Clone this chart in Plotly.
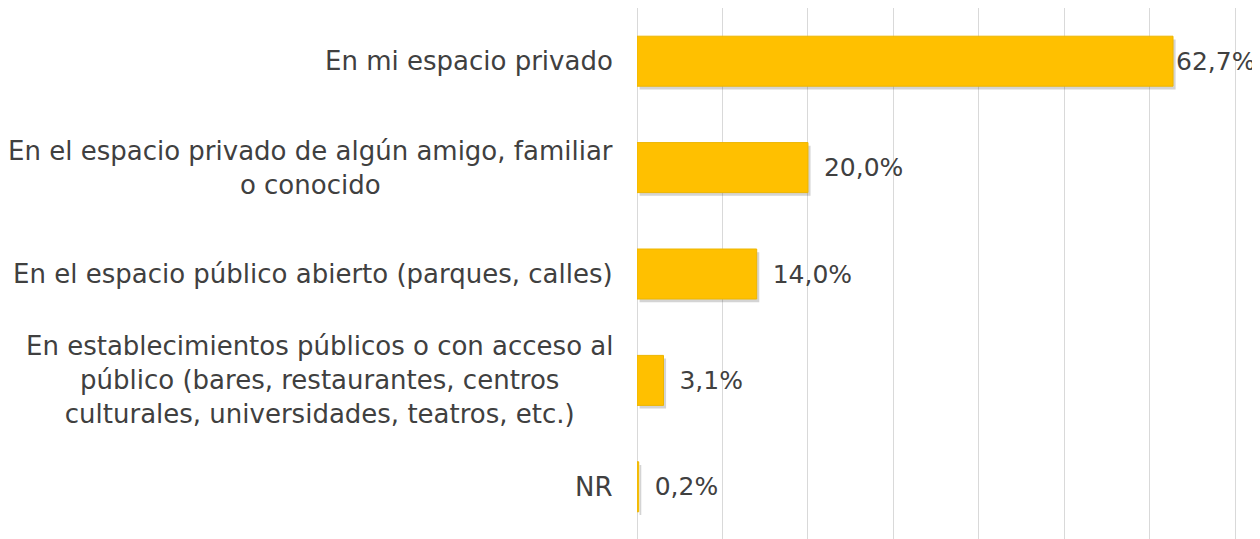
import plotly.graph_objects as go

categories = [
    "En mi espacio privado",
    "En el espacio privado de algún amigo, familiar<br>o conocido",
    "En el espacio público abierto (parques, calles)",
    "En establecimientos públicos o con acceso al<br>público (bares, restaurantes, centros<br>culturales, universidades, teatros, etc.)",
    "NR",
]
values = [0.627, 0.200, 0.140, 0.031, 0.002]
value_labels = ["62,7%", "20,0%", "14,0%", "3,1%", "0,2%"]

FONT = "DejaVu Sans, Arial, sans-serif"
TEXT_COLOR = "#404040"
FONT_SIZE = 26
BAR_W = 0.47

# a little gap before the label, except the long bar where the label sits flush
pad = "\u00a0\u2009"
bar_text = [value_labels[0]] + [pad + t for t in value_labels[1:]]

fig = go.Figure()

# soft drop shadow under each bar
fig.add_trace(
    go.Bar(
        x=values,
        y=categories,
        orientation="h",
        base=0.003,
        width=BAR_W,
        offset=-BAR_W / 2 + 0.03,
        marker=dict(color="rgba(60,60,60,0.22)", line=dict(width=0)),
        hoverinfo="skip",
    )
)

fig.add_trace(
    go.Bar(
        x=values,
        y=categories,
        orientation="h",
        width=BAR_W,
        text=bar_text,
        textposition="outside",
        cliponaxis=False,
        constraintext="none",
        textfont=dict(family=FONT, size=25, color=TEXT_COLOR),
        marker=dict(color="#FFC000", line=dict(color="#EDB600", width=1)),
        hoverinfo="skip",
    )
)

# category labels as annotations so multi-line text is centred
for cat in categories:
    fig.add_annotation(
        x=0, xref="paper", y=cat, yref="y",
        text=cat, showarrow=False,
        xanchor="right", align="center", xshift=-22,
        font=dict(family=FONT, size=FONT_SIZE, color=TEXT_COLOR),
    )

# the page body adds an 8px offset, margins are set with that in mind
fig.update_layout(
    width=1260,
    height=539,
    margin=dict(l=629, r=30, t=0, b=7),
    plot_bgcolor="white",
    paper_bgcolor="white",
    barmode="overlay",
    showlegend=False,
    font=dict(family=FONT, size=FONT_SIZE, color=TEXT_COLOR),
)
fig.update_xaxes(
    range=[0, 0.703],
    dtick=0.1,
    showgrid=True,
    gridcolor="#D9D9D9",
    gridwidth=1,
    zeroline=True,
    zerolinecolor="#D9D9D9",
    zerolinewidth=1,
    showticklabels=False,
    fixedrange=True,
)
fig.update_yaxes(
    autorange="reversed",
    showticklabels=False,
    showgrid=False,
    fixedrange=True,
)

fig.write_html("out.html")
